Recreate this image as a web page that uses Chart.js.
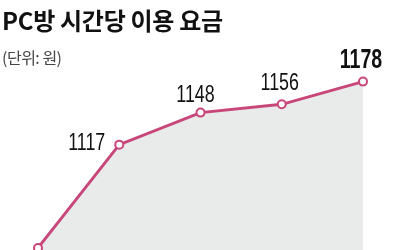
<!DOCTYPE html>
<html>
<head>
<meta charset="utf-8">
<script src="https://cdn.jsdelivr.net/npm/chart.js@4"></script>
<style>
    html, body { margin: 0; padding: 0; background: #fff; }
    #wrap { position: relative; width: 400px; height: 250px; overflow: hidden; }
    #chart { position: absolute; left: 0; top: 0; }
    .title { position: absolute; left: 2px; top: 2px; font: bold 24px "Noto Sans CJK KR", sans-serif; letter-spacing: -0.3px; color: #111; white-space: nowrap; }
    .unit { position: absolute; left: 2px; top: 45px; font: 16px "Noto Sans CJK KR", sans-serif; letter-spacing: -0.5px; color: #444; white-space: nowrap; }
</style>
</head>
<body>
<div id="wrap">
    <canvas id="chart" width="400" height="250"></canvas>
    <div class="title">PC방 시간당 이용 요금</div>
    <div class="unit">(단위: 원)</div>
</div>
<script>
const periods = ["1", "2", "3", "4", "5"];
const fees = [1017, 1117, 1148, 1156, 1178];
const shownLabels = ["", "1117", "1148", "1156", "1178"];

// value labels next to each point, squeezed sideways like the condensed print font
const valueLabels = {
    id: "valueLabels",
    afterDatasetsDraw(chart) {
        const ctx = chart.ctx;
        const pts = chart.getDatasetMeta(0).data;
        pts.forEach((p, i) => {
            const txt = shownLabels[i];
            if (!txt) return;
            const last = i === pts.length - 1;
            let x, y, align;
            if (i === 1) {
                x = p.x - 14; y = p.y + 5; align = "right";
            } else {
                x = p.x - (i === 2 ? 5 : 2) + (last ? 0 : 0); y = p.y - (i === 2 ? 11 : 14); align = "center";
            }
            ctx.save();
            ctx.translate(x, y);
            ctx.scale(last ? 0.7 : 0.76, 1);
            ctx.fillStyle = "#111";
            ctx.textAlign = align;
            ctx.textBaseline = "alphabetic";
            ctx.font = last ? 'bold 28px "Liberation Sans", sans-serif' : '23.5px "Liberation Sans", sans-serif';
            ctx.fillText(txt, 0, 0);
            ctx.restore();
        });
    }
};

new Chart(document.getElementById("chart"), {
    type: "line",
    data: {
        labels: periods,
        datasets: [{
            data: fees,
            borderColor: "#c8467a",
            borderWidth: 3,
            backgroundColor: "#e9eaea",
            fill: "start",
            tension: 0,
            pointRadius: 4,
            pointBorderWidth: 2,
            pointBackgroundColor: "#fff",
            pointBorderColor: "#c8467a",
            clip: false
        }]
    },
    options: {
        responsive: false,
        animation: false,
        layout: { autoPadding: false, padding: { left: 38, right: 37, top: 0, bottom: 0 } },
        plugins: { legend: { display: false }, tooltip: { enabled: false } },
        scales: {
            x: { display: false, offset: false },
            y: { display: false, min: 1015, max: 1257 }
        }
    },
    plugins: [valueLabels]
});
</script>
</body>
</html>
